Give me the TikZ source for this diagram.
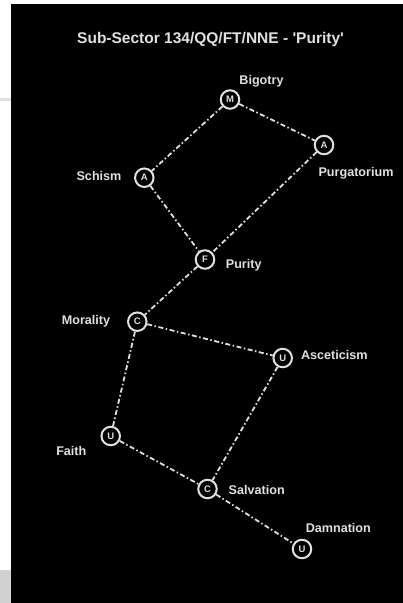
\documentclass[tikz,border=0pt]{standalone}
\usepackage{fontspec}
\setmainfont{Liberation Sans}
\begin{document}
\begin{tikzpicture}[x=1pt,y=-1pt,
  vert/.style={circle,draw=white!88!black,line width=2pt,minimum size=18.5pt,inner sep=0pt,
    font=\bfseries\fontsize{9.5}{9.5}\selectfont,text=white!88!black},
  lbl/.style={inner sep=0pt,font=\bfseries\fontsize{12.6}{13}\selectfont,text=white!88!black},
  link/.style={draw=white!88!black,line width=1.8pt,dash pattern=on 5pt off 2.5pt on 1.5pt off 2.5pt}]
\useasboundingbox (0,0) rectangle (403,603);
\fill[white] (0,0) rectangle (403,603);
\fill[black] (11,4) rectangle (403,603);
\fill[gray!25] (0,98) rectangle (11,101);
\fill[gray!35] (0,570) rectangle (11,603);
% title
\node[lbl,font=\bfseries\fontsize{15.5}{16}\selectfont] (title) at (210.5,39) {Sub-Sector 134/QQ/FT/NNE - \textquotesingle Purity\textquotesingle};
% vertices
\node[vert] (m) at (230,99.5) {M};
\node[vert] (ar) at (324,145) {A};
\node[vert] (al) at (144.3,177.7) {A};
\node[vert] (f) at (205,259.5) {F};
\node[vert] (cm) at (137.3,321.7) {C};
\node[vert] (ua) at (282.7,358) {U};
\node[vert] (uf) at (110.7,436) {U};
\node[vert] (cs) at (207.5,489) {C};
\node[vert] (ud) at (302,549) {U};
% labels
\node[lbl] (lm) at (261.5,81) {Bigotry};
\node[lbl] (lar) at (356,173) {Purgatorium};
\node[lbl] (lal) at (99,175.5) {Schism};
\node[lbl] (lf) at (243.7,265.5) {Purity};
\node[lbl] (lcm) at (86,321) {Morality};
\node[lbl] (lua) at (334.3,355) {Asceticism};
\node[lbl] (luf) at (71.3,451) {Faith};
\node[lbl] (lcs) at (256.7,490) {Salvation};
\node[lbl] (lud) at (338.3,527.5) {Damnation};
% links
\draw[link] (m) -- (ar);
\draw[link] (m) -- (al);
\draw[link] (al) -- (f);
\draw[link] (ar) -- (f);
\draw[link] (f) -- (cm);
\draw[link] (cm) -- (ua);
\draw[link] (cm) -- (uf);
\draw[link] (ua) -- (cs);
\draw[link] (uf) -- (cs);
\draw[link] (cs) -- (ud);
\end{tikzpicture}
\end{document}
